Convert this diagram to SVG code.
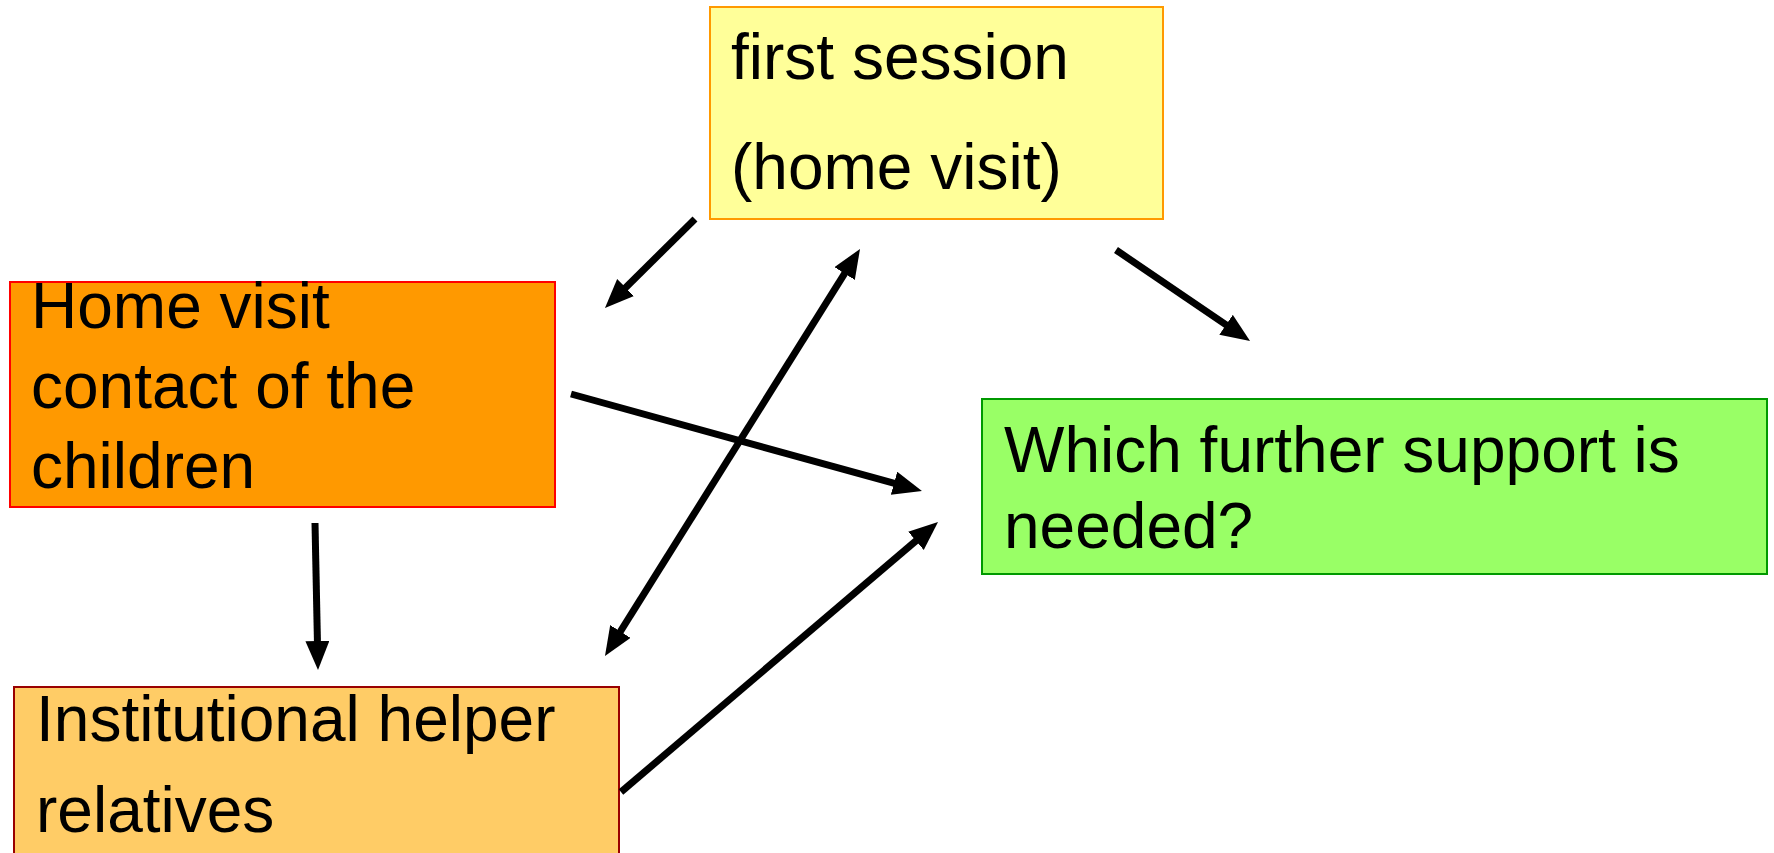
<svg xmlns="http://www.w3.org/2000/svg" width="1774" height="853" viewBox="0 0 1774 853">
<style>
text{font-family:"Liberation Sans",Arial,sans-serif;font-size:64px;fill:#000}
.c{stroke:#000;stroke-width:7;fill:none}
</style>
<defs>
<marker id="ah" markerUnits="userSpaceOnUse" markerWidth="32" markerHeight="26" refX="9" refY="12" orient="auto-start-reverse">
<path d="M0,0 L29,12 L0,24 Z" fill="#000"/>
</marker>
</defs>
<rect width="1774" height="853" fill="#fff"/>
<g id="first-session">
<rect x="710" y="7" width="453" height="212" fill="#FFFF99" stroke="#FF9900" stroke-width="2"/>
<text x="731" y="79">first session</text>
<text x="731" y="189">(home visit)</text>
</g>
<g id="home-visit">
<rect x="10" y="282" width="545" height="225" fill="#FF9900" stroke="#FF0000" stroke-width="2"/>
<text x="31" y="328">Home visit</text>
<text x="31" y="408">contact of the</text>
<text x="31" y="488">children</text>
</g>
<g id="institutional">
<rect x="14" y="687" width="605" height="175" fill="#FFCC66" stroke="#990000" stroke-width="2"/>
<text x="36" y="741">Institutional helper</text>
<text x="36" y="832">relatives</text>
</g>
<g id="further-support">
<rect x="982" y="399" width="785" height="175" fill="#99FF66" stroke="#009900" stroke-width="2"/>
<text x="1004" y="472">Which further support is</text>
<text x="1004" y="548">needed?</text>
</g>
<g id="connectors">
<line class="c" x1="695" y1="219" x2="619.2" y2="293.9" marker-end="url(#ah)"/>
<line class="c" x1="1116" y1="250" x2="1233.5" y2="329.8" marker-end="url(#ah)"/>
<line class="c" x1="571" y1="394" x2="902.7" y2="485.7" marker-end="url(#ah)"/>
<line class="c" x1="615.6" y1="639.1" x2="849.4" y2="265.9" marker-start="url(#ah)" marker-end="url(#ah)"/>
<line class="c" x1="315" y1="523" x2="317.6" y2="650" marker-end="url(#ah)"/>
<line class="c" x1="621" y1="792" x2="922.8" y2="535" marker-end="url(#ah)"/>
</g>
</svg>
